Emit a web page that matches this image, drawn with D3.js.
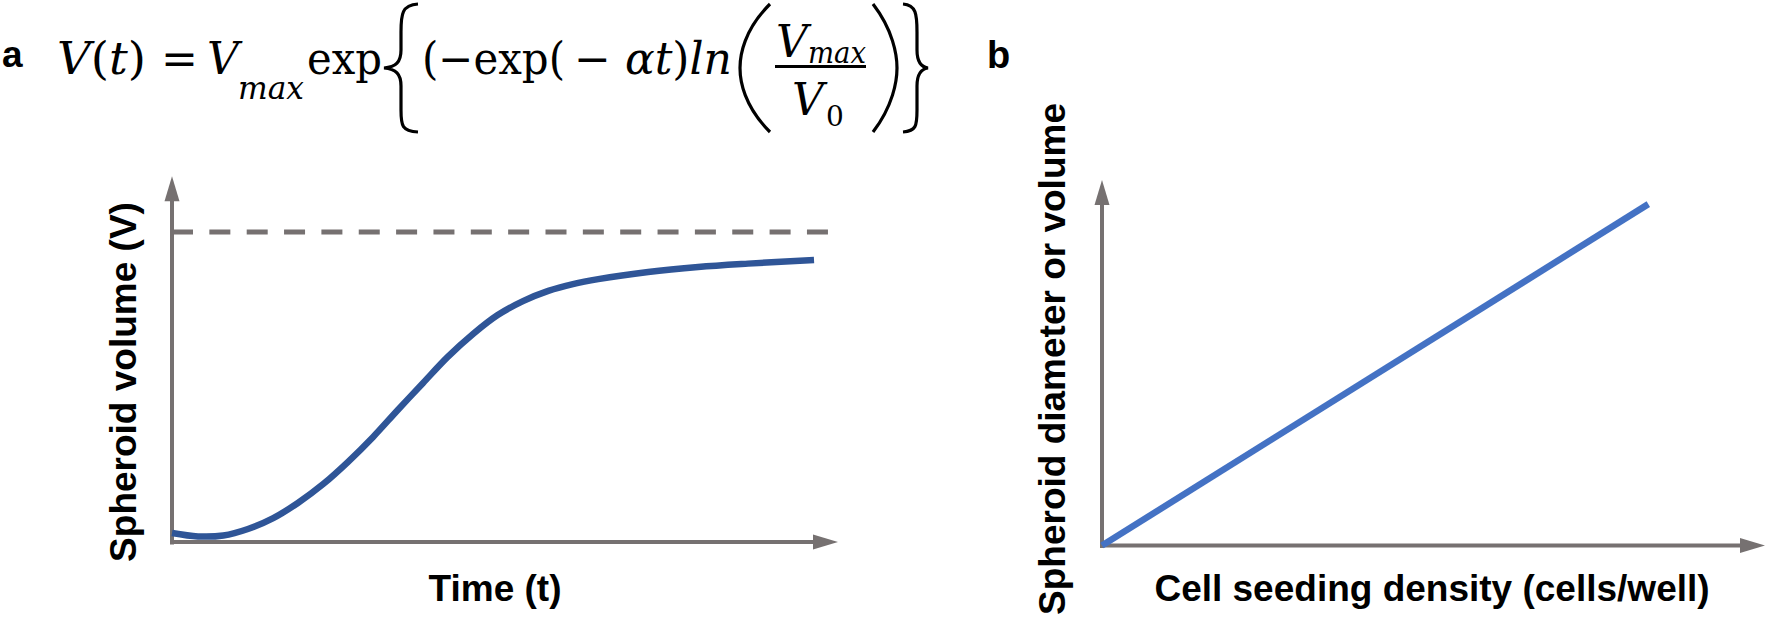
<!DOCTYPE html>
<html><head><meta charset="utf-8">
<script src="https://cdn.jsdelivr.net/npm/d3@7"></script>
<style>html,body{margin:0;padding:0;background:#fff;} svg{display:block;}</style>
</head><body>
<svg id="chart" width="1768" height="620"></svg>
<script>
// ---------- data ----------
const timeT   = [0, 3.9, 7.7, 11.4, 15.2, 18.9, 22.7, 26.4, 30.2, 33.9, 37.7, 41.4, 45.2, 48.9, 52.7, 56.5, 60.2, 64.0, 71.5, 79.0, 86.5, 96.4];
const volumeV = [0.029, 0.018, 0.021, 0.042, 0.077, 0.126, 0.187, 0.258, 0.339, 0.426, 0.513, 0.597, 0.671, 0.732, 0.777, 0.810, 0.832, 0.848, 0.871, 0.887, 0.898, 0.910];
const vMaxLevel = 1.0;
const plateauT = [0, 98.5];
const densityX = [0, 82.4];
const sizeY    = [0, 93.4];
const panelLabels = ["a", "b"];
const xTitleA = "Time (t)";
const yTitleA = "Spheroid volume (V)";
const xTitleB = "Cell seeding density (cells/well)";
const yTitleB = "Spheroid diameter or volume";

// ---------- setup ----------
const svg = d3.select("#chart");
const AXIS = "#767171";
const DARKBLUE = "#2F5597";
const BLUE = "#4472C4";
const LABEL_FONT = "'Liberation Sans', Arial, sans-serif";

const xA = d3.scaleLinear().domain([0, 100]).range([172, 838]);
const yA = d3.scaleLinear().domain([0, 1.18]).range([542, 176.2]);
const xB = d3.scaleLinear().domain([0, 100]).range([1102, 1765]);
const yB = d3.scaleLinear().domain([0, 100]).range([545.5, 180]);

function drawAxes(x, y, arrowLen, half) {
  const [x0, x1] = x.range();
  const [y0, y1] = y.range();
  const xs = x.copy().range([x0 - 2, x1 - arrowLen + 1]);
  const ys = y.copy().range([y0 + 2, y1 + arrowLen - 1]);
  svg.append("g").attr("transform", `translate(0,${y0 - 0.5})`)
    .call(d3.axisBottom(xs).tickValues([]).tickSizeOuter(0))
    .call(g => g.select(".domain").attr("stroke", AXIS).attr("stroke-width", 4));
  svg.append("g").attr("transform", `translate(${x0 - 0.5},0)`)
    .call(d3.axisLeft(ys).tickValues([]).tickSizeOuter(0))
    .call(g => g.select(".domain").attr("stroke", AXIS).attr("stroke-width", 4));
  svg.append("path").attr("fill", AXIS)
    .attr("d", `M${x1},${y0}L${x1 - arrowLen},${y0 - half}L${x1 - arrowLen},${y0 + half}Z`);
  svg.append("path").attr("fill", AXIS)
    .attr("d", `M${x0},${y1}L${x0 - half},${y1 + arrowLen}L${x0 + half},${y1 + arrowLen}Z`);
}

// ---------- panel a ----------
drawAxes(xA, yA, 25, 7.5);

svg.append("line")
  .attr("x1", xA(plateauT[0])).attr("x2", xA(plateauT[1]))
  .attr("y1", yA(vMaxLevel)).attr("y2", yA(vMaxLevel))
  .attr("stroke", AXIS).attr("stroke-width", 5)
  .attr("stroke-dasharray", "21,16.35");

const growth = timeT.map((t, i) => [t, volumeV[i]]);
svg.append("path").datum(growth)
  .attr("fill", "none").attr("stroke", DARKBLUE).attr("stroke-width", 6.5)
  .attr("d", d3.line().x(d => xA(d[0])).y(d => yA(d[1])).curve(d3.curveCatmullRom.alpha(0.5)));

svg.append("text").attr("transform", "translate(136,382) rotate(-90)")
  .attr("text-anchor", "middle").attr("font-family", LABEL_FONT).attr("font-weight", "bold")
  .attr("font-size", 37).attr("fill", "#000").text(yTitleA);
svg.append("text").attr("x", 495).attr("y", 601)
  .attr("text-anchor", "middle").attr("font-family", LABEL_FONT).attr("font-weight", "bold")
  .attr("font-size", 37).attr("fill", "#000").text(xTitleA);

// ---------- panel b ----------
drawAxes(xB, yB, 25, 7.5);
const linear = densityX.map((d, i) => [d, sizeY[i]]);
svg.append("path").datum(linear)
  .attr("fill", "none").attr("stroke", BLUE).attr("stroke-width", 6.5)
  .attr("d", d3.line().x(d => xB(d[0])).y(d => yB(d[1])));

svg.append("text").attr("transform", "translate(1065,359) rotate(-90)")
  .attr("text-anchor", "middle").attr("font-family", LABEL_FONT).attr("font-weight", "bold")
  .attr("font-size", 37).attr("fill", "#000").text(yTitleB);
svg.append("text").attr("x", 1432).attr("y", 601)
  .attr("text-anchor", "middle").attr("font-family", LABEL_FONT).attr("font-weight", "bold")
  .attr("font-size", 37).attr("fill", "#000").text(xTitleB);

// ---------- panel letters ----------
svg.append("text").attr("x", 2).attr("y", 67).attr("font-family", LABEL_FONT)
  .attr("font-weight", "bold").attr("font-size", 37).text(panelLabels[0]);
svg.append("text").attr("x", 987).attr("y", 68).attr("font-family", LABEL_FONT)
  .attr("font-weight", "bold").attr("font-size", 38).text(panelLabels[1]);

// ---------- formula ----------
const F = svg.append("g").attr("font-family", "'DejaVu Serif', serif").attr("fill", "#000");
// each piece: list of [string, italic] runs, position, size, forced width
const pieces = [
  {runs: [["V", 1], ["(", 0], ["t", 1], [")", 0]], x: 57, y: 74, s: 44, w: 89},
  {runs: [["=", 0]], x: 161, y: 74, s: 44, w: 37},
  {runs: [["V", 1]], x: 207, y: 74, s: 44},
  {runs: [["max", 1]], x: 238, y: 99, s: 32, w: 66},
  {runs: [["exp", 0]], x: 307, y: 74, s: 44, w: 75},
  {runs: [["(−exp(", 0]], x: 422, y: 74, s: 44, w: 143},
  {runs: [["− ", 0], ["αt", 1], [")", 0], ["ln", 1]], x: 574, y: 74, s: 44, w: 158},
  {runs: [["V", 1]], x: 776, y: 57, s: 44},
  {runs: [["max", 1]], x: 808, y: 63, s: 30, w: 58},
  {runs: [["V", 1]], x: 792, y: 115, s: 44},
  {runs: [["0", 0]], x: 826, y: 126, s: 28}
];
pieces.forEach(p => {
  const el = F.append("text").attr("x", p.x).attr("y", p.y).attr("font-size", p.s);
  p.runs.forEach(r => el.append("tspan").attr("font-style", r[1] ? "italic" : "normal").text(r[0]));
  if (p.w) el.attr("textLength", p.w).attr("lengthAdjust", "spacingAndGlyphs");
});
// fraction bar
F.append("line").attr("x1", 775).attr("x2", 866).attr("y1", 66.5).attr("y2", 66.5)
  .attr("stroke", "#000").attr("stroke-width", 3);
// big delimiters
const delim = F.append("g").attr("fill", "none").attr("stroke", "#000").attr("stroke-width", 3.2);
delim.append("path").attr("d", "M418,4 C402,5 401,14 401,32 L401,50 C401,62 396,67 384,68 C396,69 401,74 401,86 L401,110 C401,126 402,131 418,132");
delim.append("path").attr("d", "M903,4 C916,5 917,14 917,32 L917,50 C917,62 921,67 928,68 C921,69 917,74 917,86 L917,110 C917,126 916,131 903,132");
delim.append("path").attr("d", "M770,4 C744,30 740,55 740,68 C740,81 744,106 770,132");
delim.append("path").attr("d", "M873,4 C893,30 897,55 897,68 C897,81 893,106 873,132");
</script>
</body></html>
